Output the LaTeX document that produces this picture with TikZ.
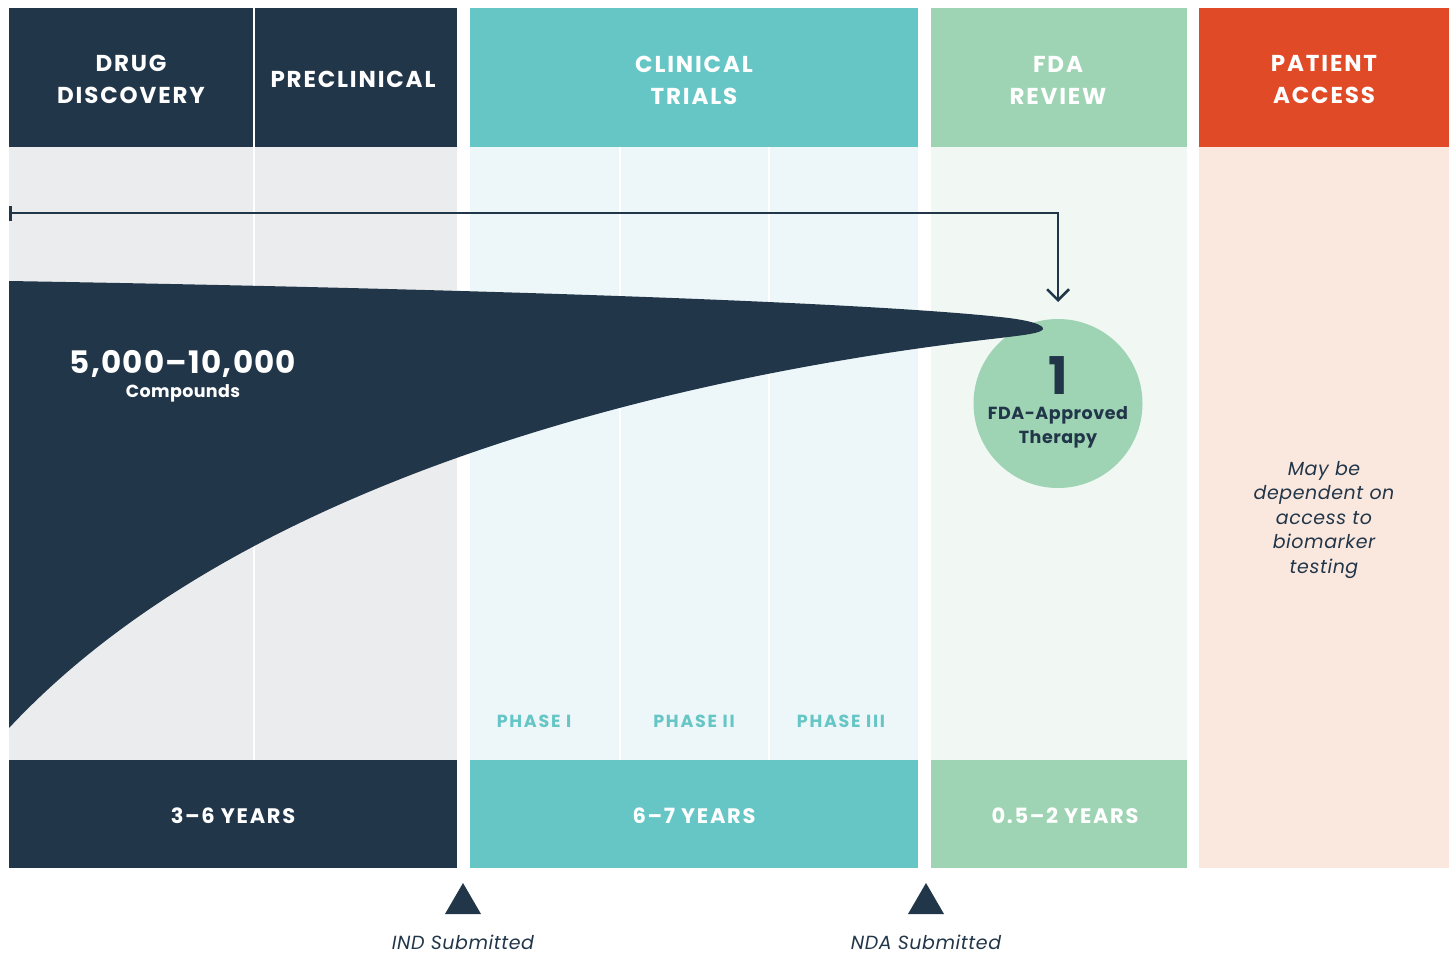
\documentclass[tikz,border=0pt]{standalone}
\usepackage{fontspec}
\setmainfont{Poppins}
\usetikzlibrary{arrows.meta}
\definecolor{navy}{HTML}{22364A}
\definecolor{tealH}{HTML}{66C6C6}
\definecolor{greenH}{HTML}{9ED4B4}
\definecolor{orangeH}{HTML}{E04A27}
\definecolor{grayB}{HTML}{EBECEE}
\definecolor{tealB}{HTML}{EDF6F8}
\definecolor{greenB}{HTML}{F1F8F4}
\definecolor{peachB}{HTML}{FAE8DE}
\tikzset{
  head/.style={text=white, font=\fontsize{23}{32}\selectfont\bfseries\addfontfeatures{LetterSpace=8}, align=center},
  foot/.style={text=white, font=\fontsize{21}{26}\selectfont\bfseries\addfontfeatures{LetterSpace=8}},
  phase/.style={text=tealH, font=\fontsize{17.5}{20}\selectfont\bfseries\addfontfeatures{LetterSpace=10}},
  note/.style={text=navy, font=\fontsize{19}{24.5}\selectfont\itshape\addfontfeatures{LetterSpace=3}, align=center},
  divider/.style={white, line width=2pt},
}
\begin{document}
\begin{tikzpicture}[x=1pt,y=-1pt]
\useasboundingbox (0,0) rectangle (1454,954);
\fill[white] (0,0) rectangle (1454,954);
% panels
\fill[grayB] (9,147) rectangle (457,760);
\fill[navy] (9,8) rectangle (457,147);
\fill[navy] (9,760) rectangle (457,868);
\fill[tealB] (470,147) rectangle (918,760);
\fill[tealH] (470,8) rectangle (918,147);
\fill[tealH] (470,760) rectangle (918,868);
\fill[greenB] (931,147) rectangle (1187,760);
\fill[greenH] (931,8) rectangle (1187,147);
\fill[greenH] (931,760) rectangle (1187,868);
\fill[orangeH] (1199,8) rectangle (1449,147);
\fill[peachB] (1199,147) rectangle (1449,868);
% dividers
\draw[divider] (253.5,8) -- (253.5,760);
\draw[divider] (619.5,147) -- (619.5,760);
\draw[divider] (768.5,147) -- (768.5,760);
% headers
\node[head] (hdd) at (131,79) {DRUG\\DISCOVERY};
\node[head] (hpc) at (353,79) {PRECLINICAL};
\node[head] (hct) at (694,80) {CLINICAL\\TRIALS};
\node[head] (hfda) at (1058,80) {FDA\\REVIEW};
\node[head] (hpa) at (1324,80) {PATIENT\\ACCESS};
% circle
\node[circle, fill=greenH, minimum size=169pt, inner sep=0pt] (circ) at (1058,403.5) {};
% funnel
\fill[navy] (9,281) .. controls (600,291) and (900,306) .. (1000,317)
  .. controls (1030,320) and (1044,325) .. (1043,329)
  .. controls (1042,333) and (1025,335) .. (1000,338)
  .. controls (700,372) and (250,470) .. (9,728) -- cycle;
% arrow
\coordinate (astart) at (9,213);
\coordinate (atip) at (1058,302);
\draw[navy, line width=2.5pt, {Bar[width=15pt,line width=3pt]}-{Straight Barb[length=11pt,width=22pt,line width=2.5pt]}] (astart) -| (atip);
% funnel labels
\node[text=white, font=\fontsize{31}{34}\selectfont\bfseries\addfontfeatures{LetterSpace=4}] (cnum) at (183,364) {5,000–10,000};
\node[text=white, font=\fontsize{17.5}{20}\selectfont\bfseries\addfontfeatures{LetterSpace=2}] (cname) at (183,393) {Compounds};
\node[text=navy, font=\fontsize{17.5}{24.5}\selectfont\bfseries\addfontfeatures{LetterSpace=3}, align=center, inner sep=0pt] (fdat) at (1058,402.5) {{\fontsize{52}{52}\selectfont\addfontfeatures{LetterSpace=0}1}\\FDA-Approved\\Therapy};
% phases
\node[phase] (p1) at (534,721) {PHASE I};
\node[phase] (p2) at (694,721) {PHASE II};
\node[phase] (p3) at (841,721) {PHASE III};
% footers
\node[foot] (f1) at (233,816) {3–6 YEARS};
\node[foot] (f2) at (694,816) {6–7 YEARS};
\node[foot] (f3) at (1065,816) {0.5–2 YEARS};
% patient note
\node[note] (pnote) at (1324,520) {May be\\dependent on\\access to\\biomarker\\testing};
% milestones
\fill[navy] (445,914) -- (463,883) -- (481,914) -- cycle;
\fill[navy] (908,914) -- (926,883) -- (944,914) -- cycle;
\node[note, inner sep=1pt] (ind) at (463,942) {IND Submitted};
\node[note, inner sep=1pt] (nda) at (926,942) {NDA Submitted};
\end{tikzpicture}
\end{document}
